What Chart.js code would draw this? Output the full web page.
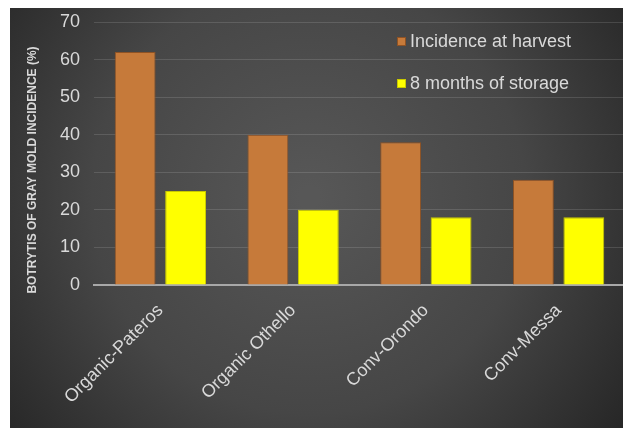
<!DOCTYPE html>
<html>
<head>
<meta charset="utf-8">
<script src="https://cdn.jsdelivr.net/npm/chart.js@4/dist/chart.umd.min.js"></script>
<style>
  html, body { margin: 0; padding: 0; background: #fff; overflow: hidden; }
  #wrap { position: absolute; left: 10px; top: 8px; width: 623px; height: 420px; }
</style>
</head>
<body>
<div id="wrap"><canvas id="chart" width="623" height="420"></canvas></div>
<script>
var categories = ["Organic-Pateros", "Organic Othello", "Conv-Orondo", "Conv-Messa"];
var harvest = [62, 40, 38, 28];
var storage = [25, 20, 18, 18];
var seriesNames = ["Incidence at harvest", "8 months of storage"];
var yTitle = "BOTRYTIS OF GRAY MOLD INCIDENCE (%)";

Chart.defaults.font.family = "'Liberation Sans', Arial, sans-serif";

// dark radial background
var bgPlugin = {
    id: 'bg',
    beforeDraw: function(chart) {
        var c = chart.ctx, w = chart.width, h = chart.height;
        var g = c.createRadialGradient(w * 0.48, h * 0.45, 10, w * 0.48, h * 0.45, w * 0.62);
        g.addColorStop(0, '#575757');
        g.addColorStop(0.55, '#464646');
        g.addColorStop(1, '#272727');
        c.save();
        c.fillStyle = g;
        c.fillRect(0, 0, w, h);
        c.restore();
    }
};

// legend inside the plot + rotated axis title
var extrasPlugin = {
    id: 'extras',
    afterDraw: function(chart) {
        var c = chart.ctx;
        c.save();
        c.font = "18px 'Liberation Sans', Arial, sans-serif";
        c.textBaseline = 'middle';
        c.textAlign = 'left';
        chart.data.datasets.forEach(function(ds, i) {
            var y = 34 + i * 42;
            c.fillStyle = ds.backgroundColor;
            c.fillRect(387, y - 5, 9, 9);
            c.strokeStyle = ds.borderColor;
            c.lineWidth = 1;
            c.strokeRect(387.5, y - 4.5, 8, 8);
            c.fillStyle = '#d9d9d9';
            c.fillText(ds.label, 400, y);
        });
        c.translate(23, 162);
        c.rotate(-Math.PI / 2);
        c.font = "bold 12px 'Liberation Sans', Arial, sans-serif";
        c.textAlign = 'center';
        c.fillStyle = '#d9d9d9';
        c.fillText(yTitle, 0, 0);
        c.restore();
    }
};

new Chart(document.getElementById('chart').getContext('2d'), {
    type: 'bar',
    data: {
        labels: categories,
        datasets: [{
            label: seriesNames[0],
            data: harvest,
            backgroundColor: '#c67a3a',
            borderColor: '#8e5224',
            borderWidth: 1,
            categoryPercentage: 0.76,
            barPercentage: 0.81
        }, {
            label: seriesNames[1],
            data: storage,
            backgroundColor: '#ffff00',
            borderColor: '#c9c900',
            borderWidth: 1,
            categoryPercentage: 0.76,
            barPercentage: 0.81
        }]
    },
    options: {
        responsive: false,
        animation: false,
        layout: { padding: { top: 14, right: 8, bottom: 0, left: 0 } },
        plugins: {
            legend: { display: false },
            tooltip: { enabled: false }
        },
        scales: {
            x: {
                grid: { display: false, drawTicks: false },
                border: { display: true, color: '#a8a8a8', width: 2 },
                ticks: {
                    color: '#d9d9d9',
                    font: { size: 18 },
                    minRotation: 45,
                    maxRotation: 45,
                    padding: 15
                },
                afterFit: function(scale) { scale.height = 143; }
            },
            y: {
                min: 0,
                max: 70,
                grid: { color: 'rgba(255,255,255,0.13)', drawTicks: false },
                border: { display: false },
                ticks: {
                    stepSize: 10,
                    color: '#d9d9d9',
                    font: { size: 18 },
                    padding: 14
                },
                afterFit: function(scale) {
                    scale.width = 84;
                    scale.paddingTop = 0;
                    scale.paddingBottom = 0;
                }
            }
        }
    },
    plugins: [bgPlugin, extrasPlugin]
});
</script>
</body>
</html>
